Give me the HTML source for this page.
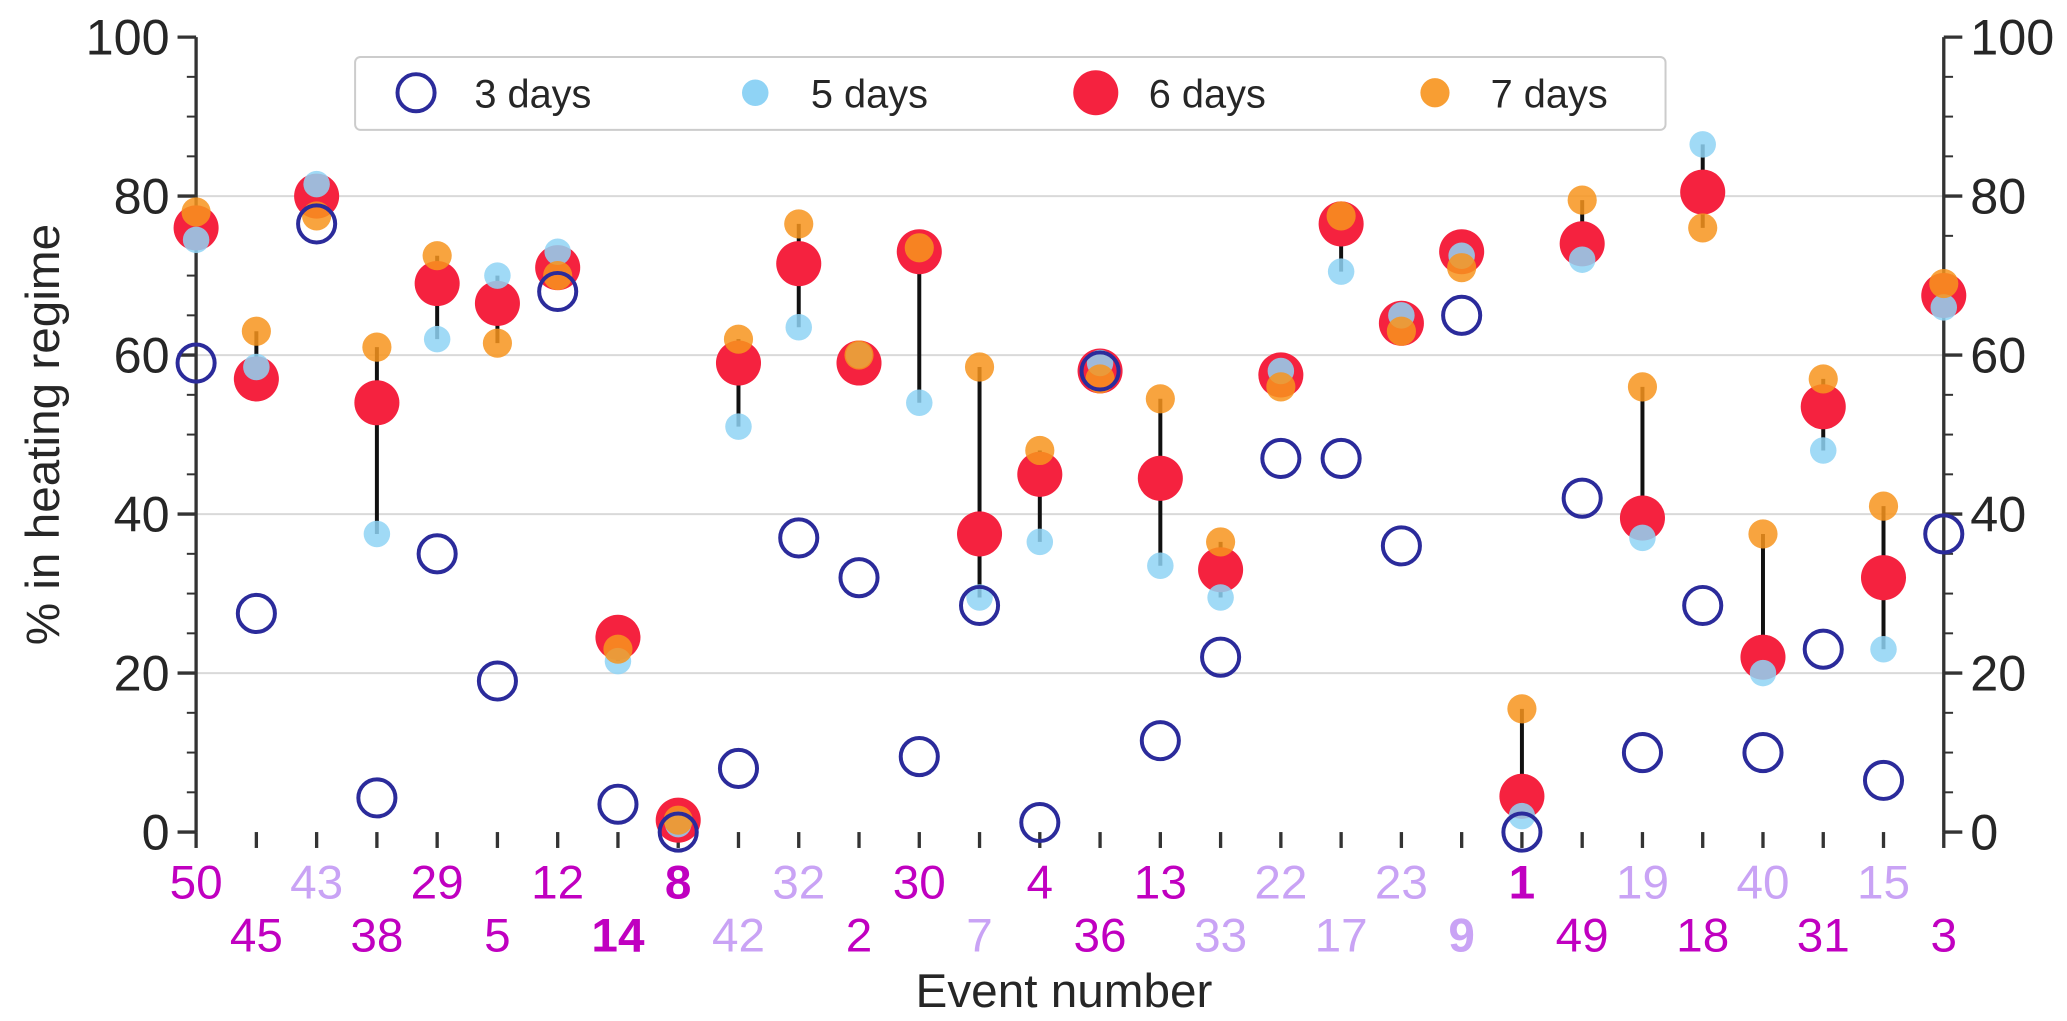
<!DOCTYPE html>
<html><head><meta charset="utf-8"><style>
html,body{margin:0;padding:0;background:#fff;}
svg{display:block;font-family:"Liberation Sans","DejaVu Sans",sans-serif;}
</style></head><body>
<svg id="chart" width="2067" height="1021" viewBox="0 0 1560 770.6" preserveAspectRatio="none" xmlns="http://www.w3.org/2000/svg">
<g id="grid"></g>
<g id="axes"></g>
<g id="marks"></g>
<g id="xlabels"></g>
<text x="35" y="328" transform="rotate(-90 35 328)" text-anchor="middle" dominant-baseline="middle" font-size="36" fill="#262626">% in heating regime</text>
<text x="803" y="760" text-anchor="middle" font-size="36" fill="#262626">Event number</text>
<g>
<rect x="268" y="43" width="989" height="55" rx="4" fill="#fff" stroke="#ccc" stroke-width="1.5"/>
<g><circle cx="314" cy="70" r="14" fill="none" stroke="#2b2b9b" stroke-width="3"/><text x="358" y="81" font-size="30" fill="#262626">3 days</text></g>
<g><circle cx="570" cy="70" r="10" fill="#8fd3f5"/><text x="612" y="81" font-size="30" fill="#262626">5 days</text></g>
<g><circle cx="827" cy="70" r="17" fill="#f5223f"/><text x="867" y="81" font-size="30" fill="#262626">6 days</text></g>
<g><circle cx="1083" cy="70" r="11" fill="#f7941d" fill-opacity="0.9"/><text x="1125" y="81" font-size="30" fill="#262626">7 days</text></g>
</g>
</svg>
<script>
const events=[50,45,43,38,29,5,12,14,8,42,32,2,30,7,4,36,13,33,22,17,23,9,1,49,19,18,40,31,15,3];
const labelLight=[0,0,1,0,0,0,0,0,0,1,1,0,0,1,0,0,0,1,1,1,1,1,0,0,1,0,1,0,1,0];
const labelBold=[0,0,0,0,0,0,0,1,1,0,0,0,0,0,0,0,0,0,0,0,0,1,1,0,0,0,0,0,0,0];
const d3=[59,27.5,76.5,4.3,35,19,68,3.5,0,8,37,32,9.5,28.5,1.2,58,11.5,22,47,47,36,65,0,42,10,28.5,10,23,6.5,37.5];
const d5=[74.5,58.5,81.5,37.5,62,70,73,21.5,1,51,63.5,60,54,29.5,36.5,59,33.5,29.5,58,70.5,65,72.5,2,72,37,86.5,20,48,23,66];
const d6=[76,57,80,54,69,66.5,71,24.5,1.5,59,71.5,59,73,37.5,45,58,44.5,33,57.5,76.5,64,73,4.5,74,39.5,80.5,22,53.5,32,67.5];
const d7=[78,63,77.5,61,72.5,61.5,70,23,1.5,62,76.5,60,73.5,58.5,48,57,54.5,36.5,56,77.5,63,71,15.5,79.5,56,76,37.5,57,41,69];
const yTicks=[0,20,40,60,80,100];
const NS="http://www.w3.org/2000/svg";
const X0=148,X1=1467,Y0=628,Y1=28;
const xs=i=>X0+i*(X1-X0)/(events.length-1);
const ys=v=>Y0-(v/100)*(Y0-Y1);
function mk(tag,attrs,parent){const e=document.createElementNS(NS,tag);for(const k in attrs)e.setAttribute(k,attrs[k]);parent.appendChild(e);return e;}
const grid=document.getElementById('grid'),axes=document.getElementById('axes'),marks=document.getElementById('marks'),xl=document.getElementById('xlabels');
yTicks.forEach(t=>{
  if(t>0&&t<100){const g=mk('line',{x1:X0,x2:X1,y1:ys(t),y2:ys(t),stroke:'#d9d9d9','stroke-width':1.5},grid);
  
  }
  mk('line',{x1:X0-14,x2:X0,y1:ys(t),y2:ys(t),stroke:'#333','stroke-width':2.5},axes);
  mk('line',{x1:X1,x2:X1+14,y1:ys(t),y2:ys(t),stroke:'#333','stroke-width':2.5},axes);
  const a=mk('text',{x:X0-20,y:ys(t)+13,'text-anchor':'end','font-size':38,fill:'#262626'},axes);a.textContent=t;
  
  
  const b=mk('text',{x:X1+20,y:ys(t)+13,'text-anchor':'start','font-size':38,fill:'#262626'},axes);b.textContent=t;
  
  
});
for(let v=5;v<100;v+=5){if(v%20===0)continue;
  mk('line',{x1:X0-7,x2:X0,y1:ys(v),y2:ys(v),stroke:'#333','stroke-width':1.5},axes);
  mk('line',{x1:X1,x2:X1+7,y1:ys(v),y2:ys(v),stroke:'#333','stroke-width':1.5},axes);}
mk('line',{x1:X0,x2:X0,y1:Y1,y2:Y0,stroke:'#333','stroke-width':2.5},axes);
mk('line',{x1:X1,x2:X1,y1:Y1,y2:Y0,stroke:'#333','stroke-width':2.5},axes);
events.forEach((ev,i)=>{
  const x=xs(i);
  mk('line',{x1:x,x2:x,y1:Y0,y2:Y0+12,stroke:'#333','stroke-width':2.5},axes);
  const t=mk('text',{x:x,y:i%2===0?678:718,'text-anchor':'middle','font-size':36,fill:labelLight[i]?'#c9a3f5':'#c000c0','font-weight':labelBold[i]?'bold':'normal'},xl);
  t.textContent=ev;
  
  
  const lo=Math.min(d5[i],d6[i],d7[i]),hi=Math.max(d5[i],d6[i],d7[i]);
  const l=mk('line',{x1:x,x2:x,y1:ys(lo),y2:ys(hi),stroke:'#111','stroke-width':3},marks);
  
  
  const c6=mk('circle',{cx:x,cy:ys(d6[i]),r:17,fill:'#f5223f'},marks);
  
  
  const c5=mk('circle',{cx:x,cy:ys(d5[i]),r:10,fill:'#8fd3f5','fill-opacity':0.85},marks);
  
  
  const c7=mk('circle',{cx:x,cy:ys(d7[i]),r:11,fill:'#f7941d','fill-opacity':0.85},marks);
  
  
  const c3=mk('circle',{cx:x,cy:ys(d3[i]),r:14,fill:'none',stroke:'#2b2b9b','stroke-width':3},marks);
  
  
});
</script>
</body></html>
